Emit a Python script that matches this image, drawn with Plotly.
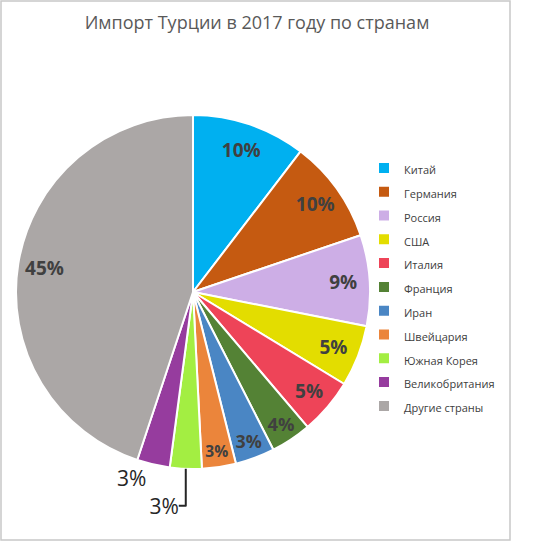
import plotly.graph_objects as go

# import shares by country (percent)
countries = ['Китай', 'Германия', 'Россия', 'США', 'Италия', 'Франция', 'Иран',
             'Швейцария', 'Южная Корея', 'Великобритания', 'Другие страны']
shares = [10.4, 9.4, 8.3, 5.6, 5.1, 3.7, 3.6, 3.1, 2.9, 3.0, 44.9]
share_labels = ['10%', '10%', '9%', '5%', '5%', '4%', '3%', '3%', '3%', '3%', '45%']

colors = ['#00B0F0', '#C55A11', '#CDAEE6', '#E3DD00', '#EE4458', '#548235',
          '#4A86C4', '#EB853B', '#A3EE42', '#963C9E', '#ABA7A6']
text_pos = ['inside'] * 8 + ['outside', 'outside', 'inside']

W, H = 543, 541


def px_x(v):
    return v / W


def px_y(v):
    return 1 - v / H


pie_domain = dict(x=[px_x(16), px_x(370)], y=[px_y(469), px_y(115)])

fig = go.Figure()

# the coloured slices
fig.add_trace(go.Pie(
    labels=['<span style="font-size:11px">%s</span>' % c for c in countries],
    values=shares,
    textinfo='none',
    sort=False,
    direction='clockwise',
    rotation=0,
    marker=dict(colors=colors, line=dict(color='white', width=2)),
    hoverinfo='label+percent',
    domain=pie_domain,
))

# transparent ring on top, only to push the labels out towards the rim
fig.add_trace(go.Pie(
    labels=countries,
    values=shares,
    text=share_labels,
    textinfo='text',
    textposition=text_pos,
    insidetextorientation='horizontal',
    hole=0.7,
    sort=False,
    direction='clockwise',
    rotation=0,
    showlegend=False,
    hoverinfo='skip',
    marker=dict(colors=['rgba(0,0,0,0)'] * len(shares), line=dict(width=0)),
    textfont=dict(family='Open Sans', size=19, color='#404040', weight=700),
    outsidetextfont=dict(family='Open Sans', size=21, color='#262626', weight=400),
    domain=pie_domain,
))

fig.update_layout(
    width=W, height=H,
    margin=dict(l=0, r=0, t=0, b=0),
    paper_bgcolor='white',
    title=dict(text='Импорт Турции в 2017 году по странам',
               x=px_x(257), xanchor='center', y=px_y(23), yanchor='middle',
               font=dict(family='Open Sans', size=18, color='#595959')),
    legend=dict(x=px_x(364), y=px_y(151), xanchor='left', yanchor='top',
                font=dict(family='Open Sans', size=16, color='#404040'),
                bgcolor='rgba(0,0,0,0)'),
    shapes=[dict(type='rect', xref='paper', yref='paper',
                 x0=px_x(1), x1=px_x(510), y0=px_y(540), y1=px_y(1),
                 line=dict(color='#C8C8C8', width=1.5))],
)

fig.write_html('out.html', config={'displayModeBar': False},
               post_script="document.body.style.margin='0px';")
